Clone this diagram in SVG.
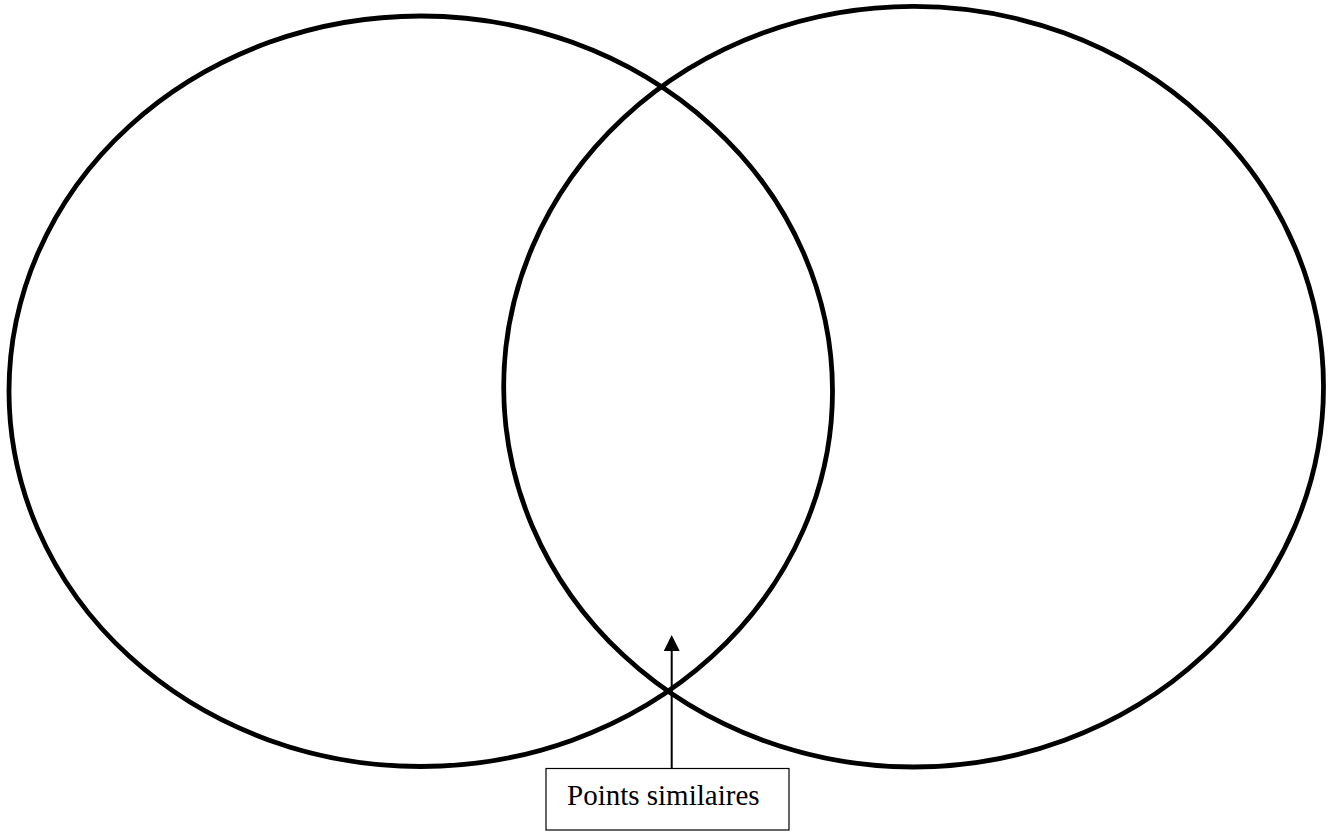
<svg xmlns="http://www.w3.org/2000/svg" width="1332" height="832" viewBox="0 0 1332 832">
<style>
.circle{fill:none;stroke:#000;stroke-width:4.8}
.box{fill:#fff;stroke:#000;stroke-width:1.2}
.lbl{font-family:"Liberation Serif","Times New Roman",serif;font-size:29px;fill:#000}
.conn{stroke:#000;stroke-width:2;fill:none}
</style>
<defs>
<marker id="arr" markerUnits="userSpaceOnUse" markerWidth="16" markerHeight="16" viewBox="0 0 16 16" refX="0" refY="8" orient="auto">
<path d="M0,0 L16,8 L0,16 Z" fill="#000"/>
</marker>
</defs>
<g id="left-circle"><ellipse class="circle" cx="420.75" cy="391.25" rx="411.75" ry="375.25"/></g>
<g id="right-circle"><ellipse class="circle" cx="913.6" cy="386.7" rx="409.9" ry="380.3"/></g>
<g id="connectors"><line class="conn" x1="671.7" y1="768.5" x2="671.7" y2="651" marker-end="url(#arr)"/></g>
<g id="label-box">
<rect class="box" x="546" y="768.5" width="243" height="61.5"/>
<text class="lbl" x="567" y="805">Points similaires</text>
</g>
</svg>
